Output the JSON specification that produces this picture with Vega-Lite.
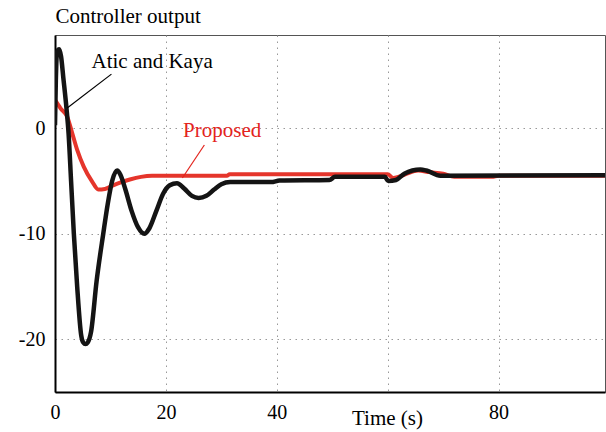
{
  "$schema": "https://vega.github.io/schema/vega-lite/v6.json",
  "autosize": "none",
  "padding": {"left": 55, "top": 35, "right": 1, "bottom": 40},
  "width": 550,
  "height": 357,
  "config": {
    "view": {"stroke": "#555", "strokeWidth": 1},
    "font": "Liberation Serif"
  },
  "datasets": {
    "lines": [
      {"series": "Atic and Kaya", "t": 0, "v": 0.3},
      {"series": "Atic and Kaya", "t": 0.15, "v": 4.5},
      {"series": "Atic and Kaya", "t": 0.4, "v": 7.3},
      {"series": "Atic and Kaya", "t": 0.75, "v": 7.5},
      {"series": "Atic and Kaya", "t": 1.1, "v": 6.8},
      {"series": "Atic and Kaya", "t": 1.5, "v": 4.8},
      {"series": "Atic and Kaya", "t": 2.07, "v": 1.9},
      {"series": "Atic and Kaya", "t": 2.45, "v": -0.5},
      {"series": "Atic and Kaya", "t": 2.9, "v": -5},
      {"series": "Atic and Kaya", "t": 3.4, "v": -10},
      {"series": "Atic and Kaya", "t": 4.0, "v": -15},
      {"series": "Atic and Kaya", "t": 4.72, "v": -19.6},
      {"series": "Atic and Kaya", "t": 5.1, "v": -20.3},
      {"series": "Atic and Kaya", "t": 5.5, "v": -20.45},
      {"series": "Atic and Kaya", "t": 5.9, "v": -20.3},
      {"series": "Atic and Kaya", "t": 6.5, "v": -19.3},
      {"series": "Atic and Kaya", "t": 7.5, "v": -14.5},
      {"series": "Atic and Kaya", "t": 8.7, "v": -10},
      {"series": "Atic and Kaya", "t": 9.5, "v": -7.2},
      {"series": "Atic and Kaya", "t": 10.3, "v": -5.0},
      {"series": "Atic and Kaya", "t": 11.2, "v": -4.0},
      {"series": "Atic and Kaya", "t": 11.8, "v": -4.4},
      {"series": "Atic and Kaya", "t": 12.7, "v": -5.8},
      {"series": "Atic and Kaya", "t": 13.8, "v": -7.8},
      {"series": "Atic and Kaya", "t": 15.0, "v": -9.4},
      {"series": "Atic and Kaya", "t": 16.1, "v": -10.0},
      {"series": "Atic and Kaya", "t": 17.0, "v": -9.5},
      {"series": "Atic and Kaya", "t": 18.3, "v": -7.8},
      {"series": "Atic and Kaya", "t": 19.5, "v": -6.2},
      {"series": "Atic and Kaya", "t": 20.7, "v": -5.4},
      {"series": "Atic and Kaya", "t": 22.0, "v": -5.2},
      {"series": "Atic and Kaya", "t": 23.3, "v": -5.7},
      {"series": "Atic and Kaya", "t": 24.7, "v": -6.4},
      {"series": "Atic and Kaya", "t": 25.9, "v": -6.6},
      {"series": "Atic and Kaya", "t": 27.3, "v": -6.4},
      {"series": "Atic and Kaya", "t": 28.7, "v": -5.8},
      {"series": "Atic and Kaya", "t": 30.0, "v": -5.3},
      {"series": "Atic and Kaya", "t": 31.6, "v": -5.1},
      {"series": "Atic and Kaya", "t": 39.0, "v": -5.1},
      {"series": "Atic and Kaya", "t": 40.5, "v": -4.95},
      {"series": "Atic and Kaya", "t": 49.5, "v": -4.9},
      {"series": "Atic and Kaya", "t": 50.5, "v": -4.6},
      {"series": "Atic and Kaya", "t": 59.5, "v": -4.6},
      {"series": "Atic and Kaya", "t": 60.1, "v": -5.0},
      {"series": "Atic and Kaya", "t": 61.5, "v": -4.9},
      {"series": "Atic and Kaya", "t": 63.0, "v": -4.3},
      {"series": "Atic and Kaya", "t": 65.9, "v": -3.9},
      {"series": "Atic and Kaya", "t": 67.0, "v": -4.0},
      {"series": "Atic and Kaya", "t": 69.5, "v": -4.5},
      {"series": "Atic and Kaya", "t": 99.2, "v": -4.45},
      {"series": "Proposed", "t": 0, "v": 2.7},
      {"series": "Proposed", "t": 1.0, "v": 1.9},
      {"series": "Proposed", "t": 2.2, "v": 1.1},
      {"series": "Proposed", "t": 3.1, "v": -0.45},
      {"series": "Proposed", "t": 4.0, "v": -2.05},
      {"series": "Proposed", "t": 5.2, "v": -3.65},
      {"series": "Proposed", "t": 6.7, "v": -5.05},
      {"series": "Proposed", "t": 7.8, "v": -5.8},
      {"series": "Proposed", "t": 9.0, "v": -5.75},
      {"series": "Proposed", "t": 10.5, "v": -5.4},
      {"series": "Proposed", "t": 12.0, "v": -5.1},
      {"series": "Proposed", "t": 13.5, "v": -4.85},
      {"series": "Proposed", "t": 15.5, "v": -4.6},
      {"series": "Proposed", "t": 17.5, "v": -4.5},
      {"series": "Proposed", "t": 31.0, "v": -4.5},
      {"series": "Proposed", "t": 31.5, "v": -4.35},
      {"series": "Proposed", "t": 60.0, "v": -4.35},
      {"series": "Proposed", "t": 61.0, "v": -4.7},
      {"series": "Proposed", "t": 63.0, "v": -4.4},
      {"series": "Proposed", "t": 65.5, "v": -4.0},
      {"series": "Proposed", "t": 67.5, "v": -4.15},
      {"series": "Proposed", "t": 70.0, "v": -4.3},
      {"series": "Proposed", "t": 72.0, "v": -4.6},
      {"series": "Proposed", "t": 78.8, "v": -4.6},
      {"series": "Proposed", "t": 80.0, "v": -4.5},
      {"series": "Proposed", "t": 99.2, "v": -4.5}
    ],
    "labels": [
      {"label": "Atic and Kaya", "t": 6.58, "v": 5.74, "t2": 10.18, "v2": 5.14, "t3": 2.2, "v3": 1.92, "c": "#000000"},
      {"label": "Proposed", "t": 23.1, "v": -0.85, "t2": 26.94, "v2": -1.58, "t3": 22.97, "v3": -4.71, "c": "#e3231c"}
    ]
  },
  "layer": [
    {
      "data": {"name": "lines"},
      "transform": [{"filter": "datum.series == 'Proposed'"}],
      "mark": {"type": "line", "color": "#e5352b", "strokeWidth": 4, "strokeJoin": "round", "interpolate": "monotone", "clip": true},
      "encoding": {
        "x": {
          "field": "t", "type": "quantitative",
          "scale": {"domain": [0, 99.2], "nice": false, "zero": false},
          "axis": {
            "values": [0, 20, 40, 60, 80],
            "labelExpr": "datum.value == 60 ? '' : datum.label",
            "grid": true, "gridColor": "#999", "gridDash": [1.5, 4.5], "gridWidth": 1,
            "domainColor": "#000", "domainWidth": 2,
            "ticks": false, "tickSize": 0,
            "labelFont": "Liberation Serif", "labelFontSize": 20, "labelColor": "#000",
            "labelBaseline": "alphabetic", "labelPadding": 26,
            "labelFlush": false,
            "title": "Time (s)", "titleFont": "Liberation Serif", "titleFontSize": 21,
            "titleFontWeight": "normal", "titleColor": "#000",
            "titleX": 332, "titleY": 32, "titleAlign": "center", "titleBaseline": "alphabetic"
          }
        },
        "y": {
          "field": "v", "type": "quantitative",
          "scale": {"domain": [-25, 8.85], "nice": false, "zero": false},
          "axis": {
            "values": [-20, -10, 0],
            "labelExpr": "replace(datum.label, '\u2212', '-')",
            "grid": true, "gridColor": "#999", "gridDash": [1.5, 4.5], "gridWidth": 1,
            "domainColor": "#000", "domainWidth": 2,
            "ticks": false, "tickSize": 0,
            "labelFont": "Liberation Serif", "labelFontSize": 20, "labelColor": "#000",
            "labelPadding": 10, "labelBaseline": "middle",
            "title": "Controller output", "titleFont": "Liberation Serif", "titleFontSize": 21,
            "titleFontWeight": "normal", "titleColor": "#000",
            "titleAngle": 0, "titleX": 0, "titleY": -12.3, "titleAlign": "left", "titleBaseline": "alphabetic"
          }
        }
      }
    },
    {
      "data": {"name": "lines"},
      "transform": [{"filter": "datum.series == 'Atic and Kaya'"}],
      "mark": {"type": "line", "color": "#141414", "strokeWidth": 4.5, "strokeJoin": "round", "interpolate": "monotone", "clip": true},
      "encoding": {
        "x": {"field": "t", "type": "quantitative"},
        "y": {"field": "v", "type": "quantitative"}
      }
    },
    {
      "data": {"name": "labels"},
      "mark": {"type": "rule", "strokeWidth": 1.2},
      "encoding": {
        "x": {"field": "t2", "type": "quantitative"},
        "y": {"field": "v2", "type": "quantitative"},
        "x2": {"field": "t3"},
        "y2": {"field": "v3"},
        "color": {"field": "c", "type": "nominal", "scale": null}
      }
    },
    {
      "data": {"name": "labels"},
      "mark": {"type": "text", "align": "left", "baseline": "alphabetic", "font": "Liberation Serif", "fontSize": 21},
      "encoding": {
        "x": {"field": "t", "type": "quantitative"},
        "y": {"field": "v", "type": "quantitative"},
        "text": {"field": "label"},
        "color": {"field": "c", "type": "nominal", "scale": null}
      }
    }
  ]
}
